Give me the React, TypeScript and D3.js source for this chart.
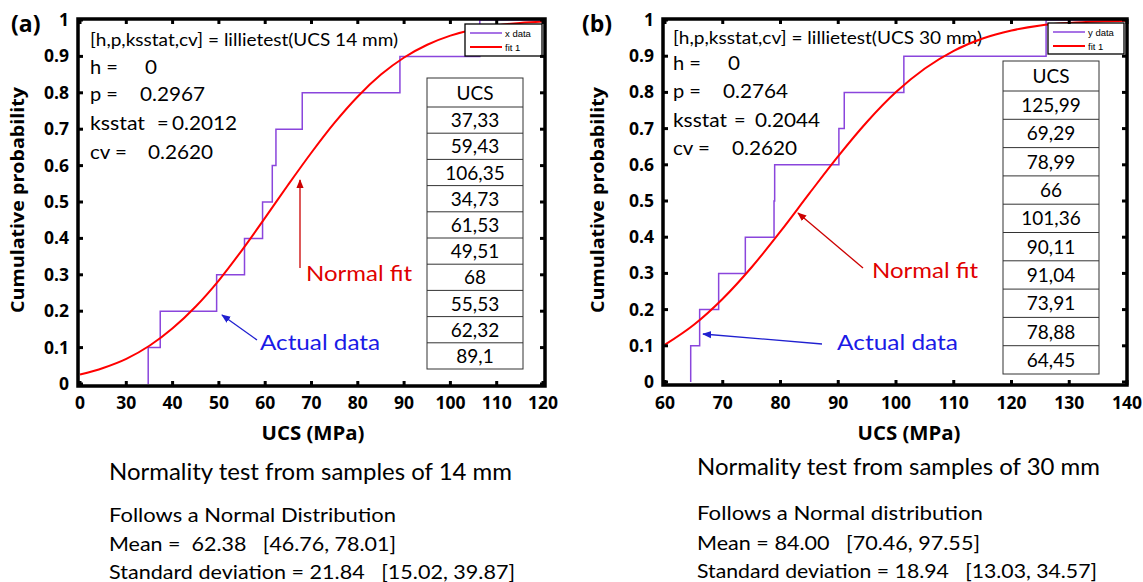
import * as d3 from "d3";
import React from "react";

// UCS samples (MPa), as listed in the tables
const ucs14 = [37.33, 59.43, 106.35, 34.73, 61.53, 49.51, 68, 55.53, 62.32, 89.1];
const ucs30 = [125.99, 69.29, 78.99, 66, 101.36, 90.11, 91.04, 73.91, 78.88, 64.45];

// normal fit curves
const fit14X = [20, 25, 30, 35, 40, 45, 50, 55, 60, 65, 70, 75, 80, 85, 90, 95, 100, 105, 110, 115, 120];
const fit14Y = [0.026, 0.044, 0.069, 0.105, 0.153, 0.213, 0.285, 0.368, 0.457, 0.548, 0.636, 0.718, 0.79, 0.85, 0.897, 0.932, 0.957, 0.974, 0.985, 0.992, 0.996];
const fit30X = [60, 65, 70, 75, 80, 85, 90, 95, 100, 105, 110, 115, 120, 125, 130, 135, 140];
const fit30Y = [0.103, 0.158, 0.23, 0.317, 0.416, 0.521, 0.624, 0.719, 0.801, 0.866, 0.915, 0.949, 0.971, 0.985, 0.992, 0.996, 0.998];

const xTicks14 = [20, 30, 40, 50, 60, 70, 80, 90, 100, 110, 120];
const xTickLabels14 = ["0", "30", "40", "50", "60", "70", "80", "90", "100", "110", "120"];
const xTicks30 = [60, 70, 80, 90, 100, 110, 120, 130, 140];
const xTickLabels30 = ["60", "70", "80", "90", "100", "110", "120", "130", "140"];
const yTicks = [0, 0.1, 0.2, 0.3, 0.4, 0.5, 0.6, 0.7, 0.8, 0.9, 1];

const stats14 = ["0", "0.2967", "0.2012", "0.2620"];
const stats30 = ["0", "0.2764", "0.2044", "0.2620"];
const notes14 = ["Follows a Normal Distribution", "Mean =  62.38   [46.76, 78.01]", "Standard deviation = 21.84   [15.02, 39.87]"];
const notes30 = ["Follows a Normal distribution", "Mean = 84.00   [70.46, 97.55]", "Standard deviation = 18.94   [13.03, 34.57]"];

const PURPLE = "#8a45dc";
const RED = "#ff0000";
const BODY = "Lato, 'Open Sans', sans-serif";
const BOLD = "'Open Sans', sans-serif";

const panels = [
  {
    key: "a", tag: "(a)", tagX: 11,
    xDomain: [20, 120], xRange: [80, 543], yRange: [384, 20],
    frame: { l: 78, r: 545, t: 19, b: 386 },
    xTicks: xTicks14, xTickLabels: xTickLabels14, yLabelRight: 69, yTitleX: 18,
    data: ucs14, fitX: fit14X, fitY: fit14Y,
    legend: { x: 465, y: 24, w: 77, h: 32, names: ["x data", "fit 1"] },
    table: { x: 427, w: 96, top: 78, head: 29, row: 26.2 },
    title: "[h,p,ksstat,cv] = lillietest(UCS 14 mm)", titleW: 308,
    statX: 90, statCenters: [67, 94, 123, 152], titleCenter: 40,
    labelW: [28, 28, 55, 37],
    valX: [145, 140, 172, 148], valW: [12, 65, 65, 65], eqX: 157, stats: stats14,
    xTitleX: 313,
    normal: { x: 306, y: 274, w: 106, from: [300, 268], to: [300, 180] },
    actual: { x: 260, y: 343, w: 120, from: [257, 340], to: [222, 315] },
    noteX: 109, headCenter: 472, headW: 403, notes: notes14, noteW: [287, 287, 406], noteCenters: [515, 544, 572],
  },
  {
    key: "b", tag: "(b)", tagX: 582,
    xDomain: [60, 140], xRange: [665, 1127], yRange: [382, 20],
    frame: { l: 663, r: 1127, t: 19, b: 385 },
    xTicks: xTicks30, xTickLabels: xTickLabels30, yLabelRight: 654, yTitleX: 598,
    data: ucs30, fitX: fit30X, fitY: fit30Y,
    legend: { x: 1048, y: 23, w: 76, h: 31, names: ["y data", "fit 1"] },
    table: { x: 1003, w: 96, top: 61, head: 30, row: 28.3 },
    title: "[h,p,ksstat,cv] = lillietest(UCS 30 mm)", titleW: 309,
    statX: 673, statCenters: [63, 91, 120, 148], titleCenter: 38,
    labelW: [28, 28, 54, 37],
    valX: [728, 723, 755, 732], valW: [12, 65, 65, 65], eqX: 734, stats: stats30,
    xTitleX: 909,
    normal: { x: 872, y: 271, w: 106, from: [863, 268], to: [798, 213] },
    actual: { x: 837, y: 343, w: 121, from: [822, 344], to: [703, 334] },
    noteX: 697, headCenter: 467, headW: 403, notes: notes30, noteW: [286, 283, 400], noteCenters: [513, 543, 571],
  },
];

function Panel({ p }: { p: any }) {
  const x = d3.scaleLinear().domain(p.xDomain).range(p.xRange);
  const y = d3.scaleLinear().domain([0, 1]).range(p.yRange);
  const f = p.frame;

  // empirical CDF as a step line
  const sorted = [...p.data].sort((a: number, b: number) => a - b);
  const steps: [number, number][] = [[sorted[0], 0]];
  sorted.forEach((v: number, i: number) => steps.push([v, (i + 1) / sorted.length]));
  steps.push([p.xDomain[1], 1]);
  const stepLine = d3.line<[number, number]>().x(d => x(d[0])).y(d => y(d[1])).curve(d3.curveStepAfter);

  const fitLine = d3.line<number>().x((d, i) => x(p.fitX[i])).y(d => y(d)).curve(d3.curveMonotoneX);

  const lg = p.legend;
  const tb = p.table;
  const statLabels = ["h =", "p =", "ksstat", "cv ="];

  return (
    <g>
      <defs>
        <clipPath id={"clip" + p.key}>
          <rect x={f.l} y={f.t} width={f.r - f.l} height={f.b - f.t} />
        </clipPath>
        <marker id={"arR" + p.key} viewBox="0 0 10 10" refX="9" refY="5" markerWidth="7" markerHeight="7" orient="auto">
          <path d="M0,1 L10,5 L0,9 Z" fill="#cc0000" />
        </marker>
        <marker id={"arB" + p.key} viewBox="0 0 10 10" refX="9" refY="5" markerWidth="7" markerHeight="7" orient="auto">
          <path d="M0,1 L10,5 L0,9 Z" fill="#2020d0" />
        </marker>
      </defs>

      <text x={p.tagX} y={32} fontFamily={BOLD} fontWeight="bold" fontSize={23}>{p.tag}</text>

      {/* stats text */}
      <text x={p.statX} y={p.titleCenter + 6} fontFamily={BODY} fontSize={17} textLength={p.titleW} lengthAdjust="spacingAndGlyphs">{p.title}</text>
      {statLabels.map((s, i) => (
        <text key={s} x={p.statX} y={p.statCenters[i] + 7} fontFamily={BODY} fontSize={20} textLength={p.labelW[i]} lengthAdjust="spacingAndGlyphs">{s}</text>
      ))}
      <text x={p.eqX} y={p.statCenters[2] + 7} fontFamily={BODY} fontSize={20}>=</text>
      {p.stats.map((s: string, i: number) => (
        <text key={i} x={p.valX[i]} y={p.statCenters[i] + 7} fontFamily={BODY} fontSize={20} textLength={p.valW[i]} lengthAdjust="spacingAndGlyphs">{s}</text>
      ))}

      {/* series */}
      <g clipPath={`url(#clip${p.key})`}>
        <path d={stepLine(steps) || ""} fill="none" stroke={PURPLE} strokeWidth={1.5} />
        <path d={fitLine(p.fitY) || ""} fill="none" stroke={RED} strokeWidth={2} />
      </g>

      {/* table */}
      <g fontFamily={BODY} fontSize={19} textAnchor="middle">
        <rect x={tb.x} y={tb.top} width={tb.w} height={tb.head + tb.row * p.data.length} fill="white" stroke="#333" strokeWidth={1} />
        <text x={tb.x + tb.w / 2} y={tb.top + tb.head / 2 + 7}>UCS</text>
        {p.data.map((v: number, i: number) => {
          const top = tb.top + tb.head + tb.row * i;
          return (
            <g key={i}>
              <line x1={tb.x} x2={tb.x + tb.w} y1={top} y2={top} stroke="#333" strokeWidth={1} />
              <text x={tb.x + tb.w / 2} y={top + tb.row / 2 + 7}>{String(v).replace(".", ",")}</text>
            </g>
          );
        })}
      </g>

      {/* legend */}
      <rect x={lg.x} y={lg.y} width={lg.w} height={lg.h} fill="white" stroke="black" strokeWidth={1.3} />
      <line x1={lg.x + 5} x2={lg.x + 37} y1={lg.y + 9} y2={lg.y + 9} stroke={PURPLE} strokeWidth={1.5} />
      <line x1={lg.x + 5} x2={lg.x + 37} y1={lg.y + 23} y2={lg.y + 23} stroke={RED} strokeWidth={2} />
      <text x={lg.x + 40} y={lg.y + 13} fontFamily="'Liberation Sans', Arial" fontSize={9.5}>{lg.names[0]}</text>
      <text x={lg.x + 40} y={lg.y + 27} fontFamily="'Liberation Sans', Arial" fontSize={9.5}>{lg.names[1]}</text>

      {/* frame and ticks */}
      <rect x={f.l} y={f.t} width={f.r - f.l} height={f.b - f.t} fill="none" stroke="black" strokeWidth={3.5} />
      {p.xTicks.map((t: number) => (
        <g key={"xt" + t}>
          <line x1={x(t)} x2={x(t)} y1={f.b} y2={f.b - 5} stroke="black" strokeWidth={3} />
          <line x1={x(t)} x2={x(t)} y1={f.t} y2={f.t + 5} stroke="black" strokeWidth={3} />
        </g>
      ))}
      {yTicks.map(t => (
        <g key={"yt" + t}>
          <line x1={f.l} x2={f.l + 5} y1={y(t)} y2={y(t)} stroke="black" strokeWidth={3} />
          <line x1={f.r} x2={f.r - 5} y1={y(t)} y2={y(t)} stroke="black" strokeWidth={3} />
        </g>
      ))}

      {/* tick labels */}
      <g fontFamily={BOLD} fontWeight="bold" fontSize={17.5}>
        {p.xTicks.map((t: number, i: number) => (
          <text key={"xl" + t} x={x(t)} y={409} textAnchor="middle">{p.xTickLabels[i]}</text>
        ))}
        {yTicks.map(t => (
          <text key={"yl" + t} x={p.yLabelRight} y={y(t) + 6} textAnchor="end">{String(t)}</text>
        ))}
      </g>

      <text x={p.xTitleX} y={440} textAnchor="middle" fontFamily={BOLD} fontWeight="bold" fontSize={19} textLength={103} lengthAdjust="spacingAndGlyphs">UCS (MPa)</text>
      <text transform={`translate(${p.yTitleX + 6},200) rotate(-90)`} textAnchor="middle" fontFamily={BOLD} fontWeight="bold" fontSize={18} textLength={226} lengthAdjust="spacingAndGlyphs">Cumulative probability</text>

      {/* annotations */}
      <line x1={p.normal.from[0]} y1={p.normal.from[1]} x2={p.normal.to[0]} y2={p.normal.to[1]} stroke="#cc0000" strokeWidth={1.3} markerEnd={`url(#arR${p.key})`} />
      <text x={p.normal.x} y={p.normal.y + 7} fill="#e00000" fontFamily={BODY} fontSize={21} textLength={p.normal.w} lengthAdjust="spacingAndGlyphs">Normal fit</text>
      <line x1={p.actual.from[0]} y1={p.actual.from[1]} x2={p.actual.to[0]} y2={p.actual.to[1]} stroke="#2020d0" strokeWidth={1.3} markerEnd={`url(#arB${p.key})`} />
      <text x={p.actual.x} y={p.actual.y + 7} fill="#1a1ae6" fontFamily={BODY} fontSize={21} textLength={p.actual.w} lengthAdjust="spacingAndGlyphs">Actual data</text>

      {/* notes below */}
      <text x={p.noteX} y={p.headCenter + 8} fontFamily={BODY} fontSize={24} textLength={p.headW} lengthAdjust="spacingAndGlyphs">
        {`Normality test from samples of ${p.key === "a" ? "14" : "30"} mm`}
      </text>
      {p.notes.map((s: string, i: number) => (
        <text key={i} x={p.noteX} y={p.noteCenters[i] + 7} fontFamily={BODY} fontSize={20} textLength={p.noteW[i]} lengthAdjust="spacingAndGlyphs" style={{ whiteSpace: "pre" }}>{s}</text>
      ))}
    </g>
  );
}

export default function App() {
  return (
    <svg width={1143} height={582} style={{ position: "absolute", left: 0, top: 0, background: "white" }}>
      <rect width={1143} height={582} fill="white" />
      {panels.map(p => <Panel key={p.key} p={p} />)}
    </svg>
  );
}
